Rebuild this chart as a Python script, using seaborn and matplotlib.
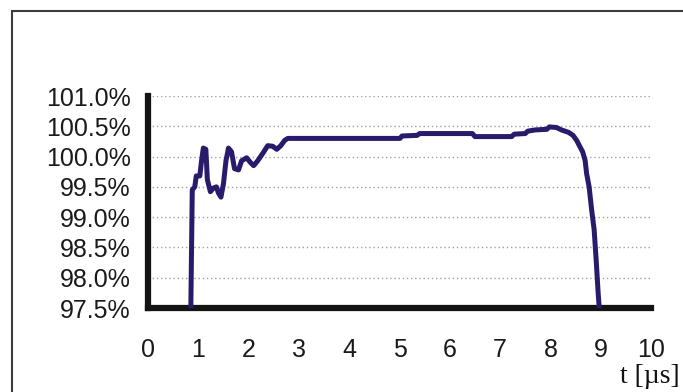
import matplotlib
matplotlib.use("Agg")
import matplotlib.pyplot as plt
from matplotlib.patches import Rectangle
from matplotlib.ticker import FuncFormatter
import seaborn as sns
import pandas as pd

# pulse amplitude relative to nominal, versus time
t_us = [0.85, 0.88, 0.93, 0.96, 1.03, 1.06, 1.10, 1.15, 1.18, 1.24, 1.30, 1.36,
        1.40, 1.45, 1.50, 1.55, 1.60, 1.66, 1.72, 1.80, 1.86, 1.96, 2.04, 2.10,
        2.18, 2.28, 2.38, 2.48, 2.56, 2.64, 2.72, 2.78, 5.01, 5.05, 5.35, 5.40,
        6.45, 6.50, 7.23, 7.28, 7.50, 7.55, 7.70, 7.93, 7.98, 8.12, 8.22, 8.36,
        8.45, 8.52, 8.57, 8.64, 8.69, 8.72, 8.77, 8.82, 8.87, 8.91, 8.95, 8.98]
amplitude_pct = [97.40, 99.45, 99.50, 99.68, 99.68, 99.90, 100.14, 100.12, 99.62,
                 99.42, 99.48, 99.50, 99.40, 99.33, 99.55, 99.93, 100.14, 100.08,
                 99.80, 99.78, 99.93, 99.98, 99.90, 99.85, 99.93, 100.05, 100.18,
                 100.17, 100.12, 100.18, 100.27, 100.30, 100.30, 100.34, 100.35,
                 100.38, 100.38, 100.33, 100.33, 100.37, 100.38, 100.42, 100.44,
                 100.45, 100.49, 100.48, 100.44, 100.40, 100.35, 100.27, 100.19,
                 100.08, 99.94, 99.72, 99.50, 99.12, 98.79, 98.29, 97.74, 97.40]

x_ticks = list(range(0, 11))
y_ticks = [97.5, 98.0, 98.5, 99.0, 99.5, 100.0, 100.5, 101.0]

df = pd.DataFrame({"t": t_us, "amp": amplitude_pct})

sns.set_style("white")
plt.rcParams["font.family"] = ["Liberation Sans", "DejaVu Sans"]

fig = plt.figure(figsize=(6.83, 3.92), dpi=100)
ax = fig.add_axes([148 / 683, (392 - 308) / 392, (651 - 148) / 683, (308 - 96) / 392])

sns.lineplot(data=df, x="t", y="amp", sort=False, estimator=None,
             color="#2a1a6c", lw=3.6, ax=ax, zorder=5)

ax.set_xlim(0, 10)
ax.set_ylim(97.5, 101.0)
ax.set_xticks(x_ticks)
ax.set_yticks(y_ticks)
ax.yaxis.set_major_formatter(FuncFormatter(lambda v, _: f"{v:.1f}%"))
ax.set_xlabel("")
ax.set_ylabel("")

# dotted horizontal gridlines
for yv in y_ticks[1:]:
    ax.axhline(yv, color="#a0a0a0", lw=1.0, ls=(0, (1, 2)), zorder=1)

for side in ("top", "right"):
    ax.spines[side].set_visible(False)
for side in ("left", "bottom"):
    ax.spines[side].set_linewidth(4.5)
    ax.spines[side].set_color("#141414")
    ax.spines[side].set_capstyle("projecting")

ax.tick_params(axis="both", which="major", direction="out", length=3.5,
               width=4.5, color="#141414", labelsize=18, labelcolor="#1a1a1a")
ax.tick_params(axis="y", pad=9)
ax.tick_params(axis="x", pad=18)

fig.text(680 / 683, (392 - 383) / 392, "t [µs]", ha="right", va="baseline",
         fontsize=20, family=["Liberation Serif", "DejaVu Serif"], color="#111111")

# outer frame
fig.patches.append(Rectangle((11.5 / 683, -0.1), 1.2, (392 - 11.5) / 392 + 0.1,
                             transform=fig.transFigure, fill=False,
                             edgecolor="#3c3c3c", lw=1.5, zorder=0))

fig.savefig("out.png", dpi=100)
